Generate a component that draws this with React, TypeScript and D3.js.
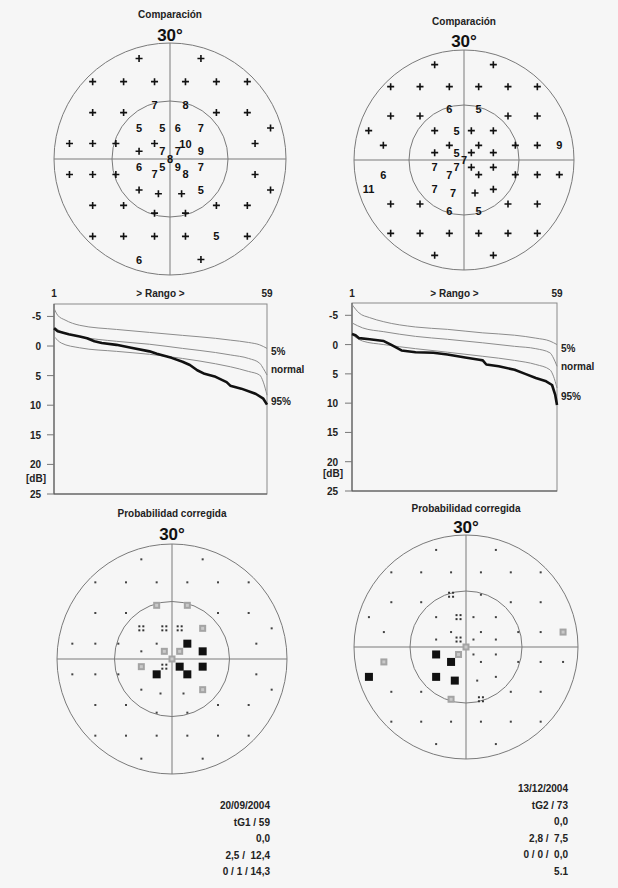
import React from "react";
import * as d3 from "d3";

// Octopus G1 test-point pattern (degrees, left-eye orientation; mirrored for the other eye)
const G1_X = [-8, 8, -20, -12, -4, 4, 12, 20, -20, -12, -4, 4, 12, 20, 26, -8, -2, 2, 8, -26, -20, -14, 22, -4, 4, -8, -2, 2, 8, 0, -8, -2, 2, 8, -4, 4, -26, -20, -14, 22, 26, -8, -3, 3, 8, -20, -12, -4, 4, 12, 20, -20, -12, -4, 4, 12, 20, -8, 8];
const G1_Y = [26, 26, 20, 20, 20, 20, 20, 20, 12, 12, 14, 14, 12, 12, 8, 8, 8, 8, 8, 4, 4, 4, 4, 4, 4, 2, 2, 2, 2, 0, -2, -2, -2, -2, -4, -4, -4, -4, -4, -4, -8, -8, -9, -9, -8, -12, -12, -14, -14, -12, -12, -20, -20, -20, -20, -20, -20, -26, -26];

// Comparison values (0 = "+", i.e. within normal)
const CMP_LEFT = [0, 0, 0, 0, 0, 0, 0, 0, 0, 0, 7, 8, 0, 0, 0, 5, 5, 6, 7, 0, 0, 0, 0, 0, 10, 0, 7, 7, 9, 8, 6, 5, 9, 7, 7, 8, 0, 0, 0, 0, 0, 0, 0, 0, 5, 0, 0, 0, 0, 0, 0, 0, 0, 0, 0, 5, 0, 6, 0];
const CMP_RIGHT = [0, 0, 0, 0, 0, 0, 0, 0, 0, 0, 5, 6, 0, 0, 0, 0, 0, 5, 0, 9, 0, 0, 0, 0, 0, 0, 0, 5, 0, 7, 0, 0, 7, 7, 0, 7, 0, 0, 0, 6, 11, 0, 0, 7, 7, 0, 0, 5, 6, 0, 0, 0, 0, 0, 0, 0, 0, 0, 0];

// Corrected probability classes: 0 dot, 1 "::", 2 grey square, 3 black square
const PROB_LEFT = [0, 0, 0, 0, 0, 0, 0, 0, 0, 0, 2, 2, 0, 0, 0, 1, 1, 1, 2, 0, 0, 0, 0, 0, 3, 0, 2, 2, 3, 2, 2, 1, 3, 3, 3, 3, 0, 0, 0, 0, 0, 0, 0, 0, 2, 0, 0, 0, 0, 0, 0, 0, 0, 0, 0, 0, 0, 0, 0];
const PROB_RIGHT = [0, 0, 0, 0, 0, 0, 0, 0, 0, 0, 0, 1, 0, 0, 0, 0, 0, 1, 0, 2, 0, 0, 0, 0, 0, 0, 0, 1, 0, 2, 0, 0, 2, 3, 0, 3, 0, 0, 0, 2, 3, 0, 0, 3, 3, 0, 0, 1, 2, 0, 0, 0, 0, 0, 0, 0, 0, 0, 0];

// Bebie (cumulative defect) curves: rank -> dB
const RANK_L_5 = [1, 2, 4, 8, 18, 27, 36, 45, 49, 54, 57, 59];
const DB_L_5 = [-6.4, -5.2, -4.4, -3.5, -2.8, -2.3, -1.8, -1.3, -1.0, -0.6, -0.2, 0.4];
const RANK_L_N = [1, 3, 8, 18, 27, 36, 45, 49, 54, 57, 58, 59];
const DB_L_N = [-3.3, -2.4, -1.6, -0.8, -0.3, 0.4, 1.1, 1.5, 2.1, 2.9, 3.8, 4.9];
const RANK_L_95 = [1, 3, 8, 18, 27, 36, 45, 49, 54, 57, 58, 59];
const DB_L_95 = [-1.6, -0.5, 0.3, 0.9, 1.4, 2.1, 3.0, 3.5, 4.3, 4.9, 6.1, 8.3];
const RANK_L_P = [1, 2, 5, 8, 10, 12, 14, 18, 22, 27, 29, 33, 36, 38, 40, 42, 45, 48, 49, 52, 56, 58, 59];
const DB_L_P = [-3.0, -2.5, -2.0, -1.6, -1.3, -0.8, -0.5, -0.2, 0.3, 0.9, 1.3, 2.0, 2.65, 3.2, 4.1, 4.7, 5.2, 6.1, 6.7, 7.2, 8.1, 8.9, 9.9];

const RANK_R_5 = [1, 3, 6, 10, 19, 28, 38, 47, 53, 57, 59];
const DB_R_5 = [-6.85, -5.4, -4.6, -3.9, -3.0, -2.6, -2.0, -1.6, -1.1, -0.6, 0];
const RANK_R_N = [1, 4, 10, 19, 28, 38, 47, 53, 57, 58, 59];
const DB_R_N = [-3.7, -2.85, -2.2, -1.4, -0.9, -0.3, 0.3, 0.7, 1.4, 2.3, 3.7];
const RANK_R_95 = [1, 4, 10, 19, 28, 38, 47, 53, 57, 58, 59];
const DB_R_95 = [-1.7, -0.6, 0, 0.7, 1.3, 2.0, 2.7, 3.4, 4.3, 5.4, 7.4];
const RANK_R_P = [1, 2, 3, 6, 10, 12, 15, 19, 24, 28, 33, 37, 38, 39, 42.5, 47, 50, 53, 55.7, 57.6, 58.5, 59];
const DB_R_P = [-1.8, -1.6, -1.1, -0.9, -0.6, 0, 1.0, 1.3, 1.4, 1.7, 2.2, 2.6, 2.7, 3.4, 3.7, 4.3, 5.0, 5.7, 6.2, 6.9, 8.6, 10.3];

const DB_TICKS = [-5, 0, 5, 10, 15, 20, 25];
const CURVE_LABELS = ["5%", "normal", "95%"];

const INFO_LEFT = ["20/09/2004", "tG1 / 59", "0,0", "2,5 /  12,4", "0 / 1 / 14,3"];
const INFO_RIGHT = ["13/12/2004", "tG2 / 73", "0,0", "2,8 /  7,5", "0 / 0 /  0,0", "5.1"];

const FONT = "'Liberation Sans', Arial, Helvetica, sans-serif";

type PolarProps = {
  cx: number; cy: number; R: number; title: string; titleY: number; degY: number;
  mirror: boolean; kind: "cmp" | "prob"; values: number[];
};

function PolarMap({ cx, cy, R, title, titleY, degY, mirror, kind, values }: PolarProps) {
  const sx = d3.scaleLinear().domain([-30, 30]).range([cx - R, cx + R]);
  const sy = d3.scaleLinear().domain([-30, 30]).range([cy + R, cy - R]);
  const ringR = sx(15) - sx(0);
  return (
    <g>
      <text x={cx} y={titleY} textAnchor="middle" fontSize={10} fontWeight="bold" fill="#222">{title}</text>
      <text x={cx} y={degY} textAnchor="middle" fontSize={17} fontWeight="bold" fill="#111">30°</text>
      <circle cx={cx} cy={cy} r={R} fill="none" stroke="#7a7a7a" strokeWidth={1} />
      <circle cx={cx} cy={cy} r={ringR} fill="none" stroke="#7a7a7a" strokeWidth={1} />
      <line x1={cx - R} x2={cx + R} y1={cy} y2={cy} stroke="#7a7a7a" strokeWidth={1} />
      <line x1={cx} x2={cx} y1={cy - R} y2={cy + R} stroke="#7a7a7a" strokeWidth={1} />
      {G1_X.map((gx, i) => {
        const px = sx(mirror ? -gx : gx);
        const py = sy(G1_Y[i]);
        const v = values[i];
        if (kind === "cmp") {
          if (v === 0) {
            return (
              <path key={i} d={`M${px - 3.5},${py}H${px + 3.5}M${px},${py - 3.5}V${py + 3.5}`} stroke="#111" strokeWidth={1.6} />
            );
          }
          return (
            <text key={i} x={px} y={py + 4} textAnchor="middle" fontSize={11} fontWeight="bold" fill="#111">{v}</text>
          );
        }
        if (v === 0) return <rect key={i} x={px - 1} y={py - 1} width={2} height={2} fill="#444" />;
        if (v === 1)
          return (
            <g key={i} fill="#333">
              <rect x={px - 3} y={py - 3} width={2} height={2} />
              <rect x={px + 1} y={py - 3} width={2} height={2} />
              <rect x={px - 3} y={py + 1} width={2} height={2} />
              <rect x={px + 1} y={py + 1} width={2} height={2} />
            </g>
          );
        if (v === 2)
          return (
            <g key={i}>
              <rect x={px - 3.5} y={py - 3.5} width={7} height={7} fill="#a4a4a4" />
              <rect x={px - 1.5} y={py - 1.5} width={3} height={3} fill="#c9c9c9" />
            </g>
          );
        return <rect key={i} x={px - 4} y={py - 4} width={8} height={8} fill="#111" />;
      })}
    </g>
  );
}

type CurveProps = {
  x0: number; x1: number; y0: number; y1: number;
  tickLabelX: number; dbY: number;
  ref5: [number[], number[]]; refN: [number[], number[]]; ref95: [number[], number[]]; pat: [number[], number[]];
  labelYs: number[];
};

function CurvePanel({ x0, x1, y0, y1, tickLabelX, dbY, ref5, refN, ref95, pat, labelYs }: CurveProps) {
  const x = d3.scaleLinear().domain([1, 59]).range([x0, x1]);
  const y = d3.scaleLinear().domain([-7.1, 25]).range([y0, y1]);
  const mk = (s: [number[], number[]], curve: d3.CurveFactory) =>
    d3.line<number>().x((r) => x(r)).y((_, i) => y(s[1][i])).curve(curve)(s[0]) || "";
  return (
    <g>
      <rect x={x0} y={y0} width={x1 - x0} height={y1 - y0} fill="none" stroke="#8a8a8a" strokeWidth={1} />
      <line x1={x0} x2={x0} y1={y0} y2={y1} stroke="#555" strokeWidth={1} />
      <line x1={x0} x2={x1} y1={y1} y2={y1} stroke="#555" strokeWidth={1} />
      <text x={x0} y={297} textAnchor="middle" fontSize={10} fontWeight="bold" fill="#222">1</text>
      <text x={(x0 + x1) / 2} y={297} textAnchor="middle" fontSize={10} fontWeight="bold" fill="#222">{"> Rango >"}</text>
      <text x={x1} y={297} textAnchor="middle" fontSize={10} fontWeight="bold" fill="#222">59</text>
      {DB_TICKS.map((t) => (
        <g key={t}>
          <line x1={x0 - 7} x2={x0} y1={y(t)} y2={y(t)} stroke="#777" strokeWidth={1} />
          <text x={tickLabelX} y={y(t) + 4} textAnchor="end" fontSize={10} fontWeight="bold" fill="#222">{t}</text>
        </g>
      ))}
      <text x={tickLabelX - 5} y={dbY} textAnchor="middle" fontSize={10} fontWeight="bold" fill="#222">[dB]</text>
      <path d={mk(ref5, d3.curveMonotoneX)} fill="none" stroke="#8c8c8c" strokeWidth={1} />
      <path d={mk(refN, d3.curveMonotoneX)} fill="none" stroke="#8c8c8c" strokeWidth={1} />
      <path d={mk(ref95, d3.curveMonotoneX)} fill="none" stroke="#8c8c8c" strokeWidth={1} />
      <path d={mk(pat, d3.curveLinear)} fill="none" stroke="#111" strokeWidth={2.6} strokeLinejoin="round" />
      {CURVE_LABELS.map((l, i) => (
        <text key={l} x={x1 + 4} y={labelYs[i]} fontSize={10} fontWeight="bold" fill="#222">{l}</text>
      ))}
    </g>
  );
}

function InfoBlock({ x, y, lines }: { x: number; y: number; lines: string[] }) {
  return (
    <g>
      {lines.map((l, i) => (
        <text key={i} x={x} y={y + i * 16.5} textAnchor="end" fontSize={10} fontWeight="bold" fill="#222" style={{ whiteSpace: "pre" }}>
          {l}
        </text>
      ))}
    </g>
  );
}

export default function App() {
  return (
    <svg
      width={618}
      height={888}
      style={{ position: "absolute", left: 0, top: 0, background: "#f6f6f6", fontFamily: FONT }}
    >
      <PolarMap cx={170} cy={159} R={116} title="Comparación" titleY={18} degY={41} mirror={false} kind="cmp" values={CMP_LEFT} />
      <PolarMap cx={464} cy={160} R={110} title="Comparación" titleY={25} degY={47} mirror={true} kind="cmp" values={CMP_RIGHT} />

      <CurvePanel
        x0={54} x1={267} y0={304} y1={494} tickLabelX={41} dbY={482}
        ref5={[RANK_L_5, DB_L_5]} refN={[RANK_L_N, DB_L_N]} ref95={[RANK_L_95, DB_L_95]} pat={[RANK_L_P, DB_L_P]}
        labelYs={[355, 373, 405]}
      />
      <CurvePanel
        x0={352} x1={557} y0={303} y1={491} tickLabelX={338} dbY={477}
        ref5={[RANK_R_5, DB_R_5]} refN={[RANK_R_N, DB_R_N]} ref95={[RANK_R_95, DB_R_95]} pat={[RANK_R_P, DB_R_P]}
        labelYs={[352, 370, 400]}
      />

      <PolarMap cx={172} cy={659} R={115} title="Probabilidad corregida" titleY={517} degY={540} mirror={false} kind="prob" values={PROB_LEFT} />
      <PolarMap cx={466} cy={647} R={112} title="Probabilidad corregida" titleY={512} degY={533} mirror={true} kind="prob" values={PROB_RIGHT} />

      <InfoBlock x={270} y={809} lines={INFO_LEFT} />
      <InfoBlock x={568} y={792} lines={INFO_RIGHT} />
    </svg>
  );
}
